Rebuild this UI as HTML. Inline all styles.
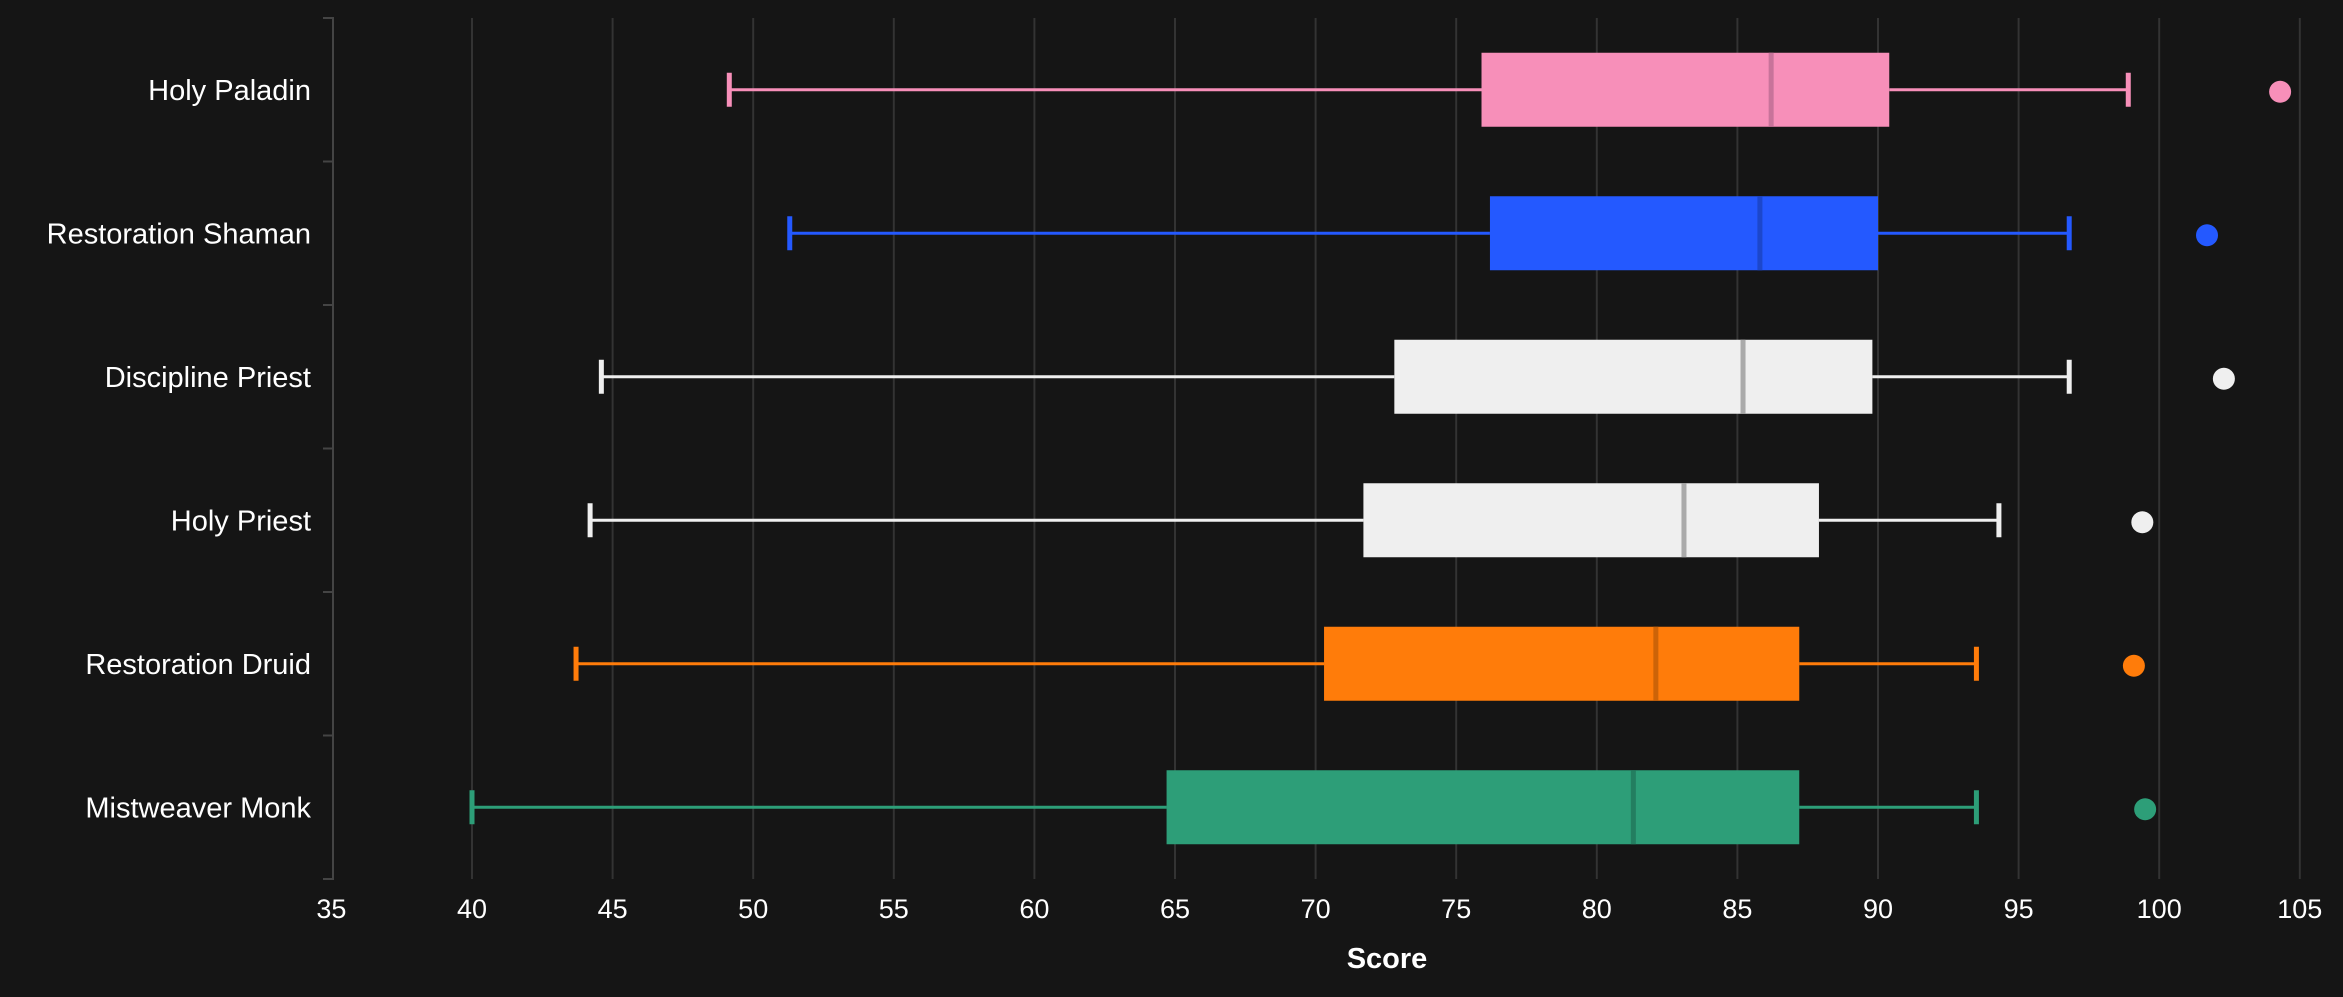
<!DOCTYPE html>
<html><head><meta charset="utf-8"><style>
html,body{margin:0;padding:0;background:#151515;}
svg{display:block;font-family:"Liberation Sans",sans-serif;}
</style></head><body>
<svg id="chart" width="2343" height="997"></svg>
<script>
const categories=["Holy Paladin","Restoration Shaman","Discipline Priest","Holy Priest","Restoration Druid","Mistweaver Monk"];
const whiskerLow=[49.15,51.3,44.6,44.2,43.7,40.0];
const q1=[75.9,76.2,72.8,71.7,70.3,64.7];
const median=[86.2,85.8,85.2,83.1,82.1,81.3];
const q3=[90.4,90.0,89.8,87.9,87.2,87.2];
const whiskerHigh=[98.9,96.8,96.8,94.3,93.5,93.5];
const outliers=[104.3,101.7,102.3,99.4,99.1,99.5];
const colors=["#f78fb9","#2459ff","#efefef","#efefef","#ff7c0a","#2d9e78"];
const medColors=["#c8739a","#1c47cc","#aaaaaa","#aaaaaa","#cc6308","#237e60"];
const xTicks=[35,40,45,50,55,60,65,70,75,80,85,90,95,100,105];
const NS="http://www.w3.org/2000/svg";
const svg=document.getElementById('chart');
const x=v=>472+(v-40)*28.12;
const yTop=18,yBottom=879,rowH=(yBottom-yTop)/categories.length;
const yc=i=>yTop+rowH*(i+0.5);
function mk(t,a,p){const e=document.createElementNS(NS,t);for(const k in a)e.setAttribute(k,a[k]);(p||svg).appendChild(e);return e;}
xTicks.forEach(t=>{
  if(t>35){const g=mk('line',{x1:x(t),x2:x(t),y1:yTop,y2:yBottom,stroke:'#333',"stroke-width":2});
  
  }
  const tx=mk('text',{x:x(t),y:918,fill:'#fff','font-size':27,'text-anchor':'middle'});
  tx.textContent=t;
  
  
});
const ax=mk('path',{d:`M323 ${yTop}H333V${yBottom}H323`,stroke:'#444','stroke-width':2,fill:'none'});


for(let i=1;i<categories.length;i++){const tk=mk('line',{x1:323,x2:333,y1:yTop+rowH*i,y2:yTop+rowH*i,stroke:'#444','stroke-width':2});

}
const xt=mk('text',{x:1387,y:968,fill:'#fff','font-size':29,'font-weight':'bold','text-anchor':'middle'});
xt.textContent='Score';


categories.forEach((c,i)=>{
  const y=yc(i),col=colors[i];
  const g=mk('g',{});
  
  
  const lb=mk('text',{x:311,y:y+10,fill:'#fff','font-size':29,'text-anchor':'end'},g);
  lb.textContent=c;
  
  
  mk('line',{x1:x(whiskerLow[i]),x2:x(q1[i]),y1:y,y2:y,stroke:col,'stroke-width':3},g);
  mk('line',{x1:x(q3[i]),x2:x(whiskerHigh[i]),y1:y,y2:y,stroke:col,'stroke-width':3},g);
  mk('line',{x1:x(whiskerLow[i]),x2:x(whiskerLow[i]),y1:y-17,y2:y+17,stroke:col,'stroke-width':5},g);
  mk('line',{x1:x(whiskerHigh[i]),x2:x(whiskerHigh[i]),y1:y-17,y2:y+17,stroke:col,'stroke-width':5},g);
  mk('rect',{x:x(q1[i]),y:y-37,width:x(q3[i])-x(q1[i]),height:74,fill:col},g);
  mk('line',{x1:x(median[i]),x2:x(median[i]),y1:y-37,y2:y+37,stroke:medColors[i],'stroke-width':5},g);
  const o=mk('circle',{cx:x(outliers[i]),cy:y+2,r:11,fill:col});
  
  
});
</script>
</body></html>
